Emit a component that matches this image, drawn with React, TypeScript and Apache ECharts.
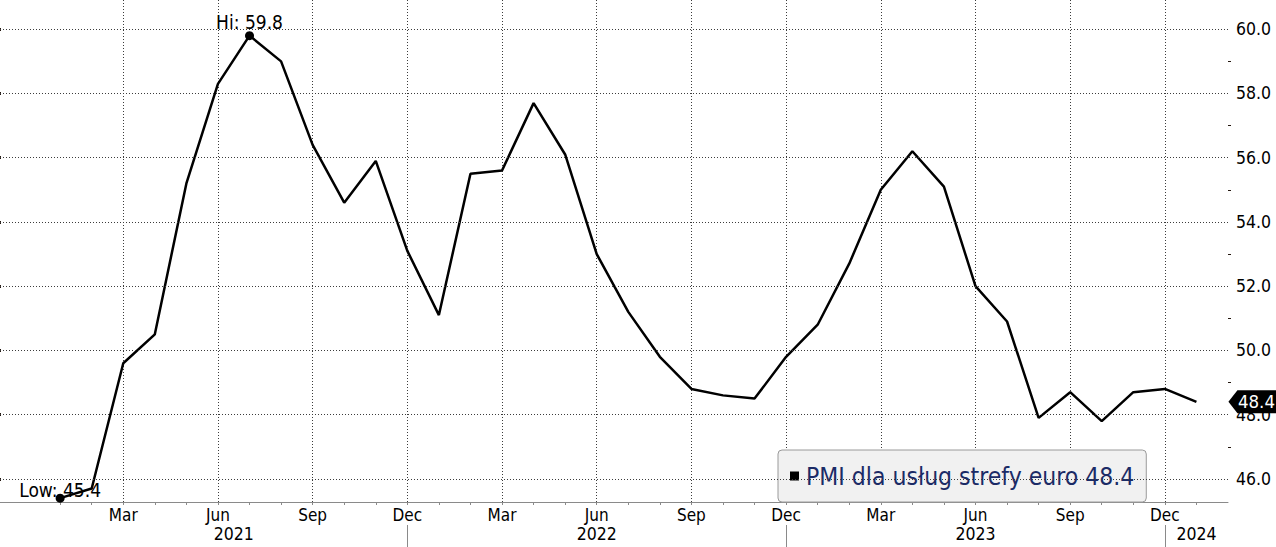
import React, { useEffect, useRef } from 'react';
import * as echarts from 'echarts';

const periods = [
  '2021-01', '2021-02', '2021-03', '2021-04', '2021-05', '2021-06', '2021-07', '2021-08', '2021-09', '2021-10', '2021-11', '2021-12',
  '2022-01', '2022-02', '2022-03', '2022-04', '2022-05', '2022-06', '2022-07', '2022-08', '2022-09', '2022-10', '2022-11', '2022-12',
  '2023-01', '2023-02', '2023-03', '2023-04', '2023-05', '2023-06', '2023-07', '2023-08', '2023-09', '2023-10', '2023-11', '2023-12',
  '2024-01',
];
const pmi = [
  45.4, 45.7, 49.6, 50.5, 55.2, 58.3, 59.8, 59.0, 56.4, 54.6, 55.9, 53.1,
  51.1, 55.5, 55.6, 57.7, 56.1, 53.0, 51.2, 49.8, 48.8, 48.6, 48.5, 49.8,
  50.8, 52.7, 55.0, 56.2, 55.1, 52.0, 50.9, 47.9, 48.7, 47.8, 48.7, 48.8,
  48.4,
];
const seriesName = 'PMI dla usług strefy euro';
const monthNames = ['Jan', 'Feb', 'Mar', 'Apr', 'May', 'Jun', 'Jul', 'Aug', 'Sep', 'Oct', 'Nov', 'Dec'];
const labelledMonths = ['03', '06', '09', '12'];
const yMajorTicks = [46, 48, 50, 52, 54, 56, 58, 60];
const yMinorTicks = [47, 49, 51, 53, 55, 57, 59];
const axisPadBefore = ['2020-11', '2020-12'];
const axisPadAfter = ['2024-02'];
const yMin = 45.28;
const yMax = 60.91;

const FONT = "'DejaVu Sans Condensed', 'Liberation Sans', sans-serif";

export default function App() {
  const ref = useRef<HTMLDivElement>(null);

  useEffect(() => {
    const chart = echarts.init(ref.current!, null, { renderer: 'svg' });
    const categories = [...axisPadBefore, ...periods, ...axisPadAfter];
    const data = [...axisPadBefore.map(() => null), ...pmi, ...axisPadAfter.map(() => null)];
    const first = axisPadBefore.length;
    const lastIdx = first + pmi.length - 1;
    const inData = (i: number) => i >= first && i <= lastIdx;
    const isLabelled = (i: number) => inData(i) && labelledMonths.includes(categories[i].slice(5));

    const years = Array.from(new Set(periods.map((p) => p.slice(0, 4))));
    const decIdx = categories
      .map((c, i) => (c.endsWith('-12') && inData(i) && i < lastIdx ? i : -1))
      .filter((i) => i >= 0);
    const bounds = [first, ...decIdx, categories.length - 1];
    const yearCenters = years.map((_, k) => (bounds[k] + bounds[k + 1]) / 2);

    const lastVal = pmi[pmi.length - 1];
    const lastCat = periods[periods.length - 1];

    const axisGray = '#8a8a8a';
    const gridColor = '#3c3c3c';

    chart.setOption({
      animation: false,
      backgroundColor: '#ffffff',
      textStyle: { fontFamily: FONT },
      grid: { left: -3, right: 48, top: 0, bottom: 45, containLabel: false, outerBoundsMode: 'none' },
      legend: {
        data: [seriesName],
        selectedMode: false,
        left: 778,
        top: 450,
        orient: 'horizontal',
        backgroundColor: '#f1f1f1',
        borderColor: '#9a9a9a',
        borderWidth: 1,
        borderRadius: 4,
        padding: [12, 12, 12, 12],
        icon: 'rect',
        itemWidth: 9,
        itemHeight: 9,
        formatter: (name: string) => `${name} ${lastVal.toFixed(1)}`,
        textStyle: { fontFamily: FONT, fontSize: 24.5, color: '#1b2b66', lineHeight: 28, padding: [0, 0, 0, 2] },
      },
      xAxis: [
        {
          type: 'category',
          data: categories,
          boundaryGap: false,
          position: 'bottom',
          axisLine: { show: true, lineStyle: { color: axisGray, width: 1 } },
          axisTick: { show: true, interval: (i: number) => inData(i), length: 3, lineStyle: { color: axisGray } },
          axisLabel: {
            interval: (i: number) => isLabelled(i),
            formatter: (v: string) => monthNames[Number(v.slice(5)) - 1],
            color: '#000',
            fontSize: 17,
            fontFamily: FONT,
            margin: 4,
          },
          splitLine: {
            show: true,
            interval: (i: number) => isLabelled(i),
            lineStyle: { color: gridColor, type: [1, 2], width: 1 },
          },
        },
        {
          type: 'value',
          min: 0,
          max: categories.length - 1,
          position: 'bottom',
          offset: 23,
          axisLine: { show: false },
          axisTick: { show: true, customValues: decIdx, length: 22, lineStyle: { color: axisGray } },
          axisLabel: {
            show: true,
            customValues: yearCenters,
            formatter: (v: number) => {
              const k = yearCenters.findIndex((c) => Math.abs(c - v) < 1e-6);
              return k >= 0 ? years[k] : '';
            },
            margin: 0,
            fontSize: 17.5,
            fontFamily: FONT,
            color: '#000',
          },
          splitLine: { show: false },
        },
      ],
      yAxis: [
        {
          type: 'value',
          position: 'right',
          min: yMin,
          max: yMax,
          axisLine: { show: true, lineStyle: { color: '#24170f', width: 1 } },
          axisTick: { show: true, customValues: yMajorTicks, length: 4, inside: false, lineStyle: { color: '#24170f', width: 3 } },
          axisLabel: {
            show: true,
            customValues: yMajorTicks,
            formatter: (v: number) => v.toFixed(1),
            color: '#000',
            fontSize: 17.5,
            fontFamily: FONT,
            margin: 8,
          },
          splitLine: { show: false },
        },
        {
          type: 'value',
          position: 'right',
          min: yMin,
          max: yMax,
          axisLine: { show: false },
          axisTick: { show: true, customValues: yMinorTicks, length: 3, inside: false, lineStyle: { color: '#24170f', width: 1 } },
          axisLabel: { show: false },
          splitLine: { show: false },
        },
      ],
      series: [
        {
          name: 'grid',
          type: 'line',
          data: [],
          z: 1,
          silent: true,
          markLine: {
            silent: true,
            symbol: ['none', 'none'],
            label: { show: false },
            lineStyle: { color: gridColor, type: [1, 2], width: 1 },
            data: yMajorTicks.map((v) => ({ yAxis: v })),
          },
        },
        {
          name: seriesName,
          type: 'line',
          data,
          z: 3,
          showSymbol: false,
          connectNulls: false,
          lineStyle: { color: '#000', width: 2.5 },
          itemStyle: { color: '#000' },
          markPoint: {
            silent: true,
            data: [
              {
                type: 'max',
                name: 'Hi',
                symbol: 'circle',
                symbolSize: 9,
                itemStyle: { color: '#000' },
                label: {
                  show: true,
                  position: 'inside',
                  offset: [0, -14],
                  color: '#000',
                  fontSize: 19,
                  fontFamily: FONT,
                  formatter: (p: any) => `Hi: ${Number(p.value).toFixed(1)}`,
                },
              },
              {
                type: 'min',
                name: 'Low',
                symbol: 'circle',
                symbolSize: 9,
                itemStyle: { color: '#000' },
                label: {
                  show: true,
                  position: 'inside',
                  offset: [0, -8],
                  color: '#000',
                  fontSize: 19,
                  fontFamily: FONT,
                  formatter: (p: any) => `Low: ${Number(p.value).toFixed(1)}`,
                },
              },
              {
                name: 'last',
                coord: [lastCat, lastVal],
                value: lastVal,
                symbol: 'path://M0,11.5L9,0L48,0L48,23L9,23Z',
                symbolSize: [48, 23],
                symbolKeepAspect: false,
                symbolOffset: [56, 0],
                itemStyle: { color: '#000' },
                label: {
                  show: true,
                  position: 'inside',
                  offset: [4, 0],
                  color: '#fff',
                  fontSize: 18.5,
                  fontFamily: FONT,
                  formatter: (p: any) => Number(p.value).toFixed(1),
                },
              },
            ],
          },
        },
      ],
    });

    return () => {
      chart.dispose();
    };
  }, []);

  return (
    <div
      ref={ref}
      style={{ position: 'fixed', left: 0, top: 0, width: 1276, height: 547, background: '#fff' }}
    />
  );
}
